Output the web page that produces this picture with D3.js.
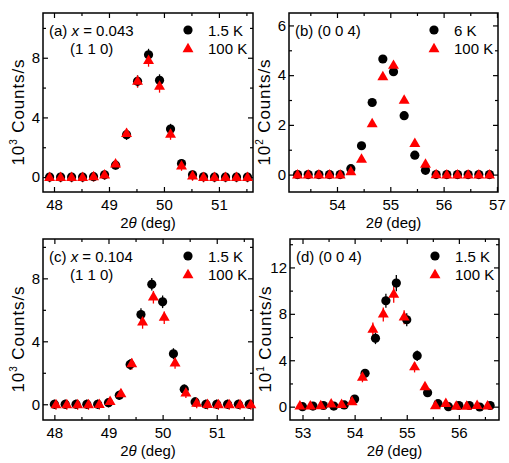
<!DOCTYPE html>
<html>
<head>
<meta charset="utf-8">
<script src="https://cdn.jsdelivr.net/npm/d3@7"></script>
<style>
  body { margin: 0; background: #fff; }
  svg text { font-family: "Liberation Sans", Arial, sans-serif; fill: #000; }
</style>
</head>
<body>
<svg id="chart" width="509" height="463"></svg>
<script>
// (a) x = 0.043, (1 1 0), units 10^3 counts/s
const aTheta = [47.92, 48.12, 48.32, 48.52, 48.72, 48.92, 49.12, 49.32, 49.52, 49.72, 49.92, 50.12, 50.32, 50.52, 50.72, 50.92, 51.12, 51.32, 51.52];
const aLow = [0, 0, 0, 0, 0.03, 0.15, 0.8, 2.84, 6.42, 8.2, 6.49, 3.22, 0.91, 0.15, 0.02, 0, 0, 0, 0];
const aHigh = [-0.05, -0.05, -0.05, -0.05, 0, 0.12, 0.85, 2.9, 6.4, 7.8, 6.06, 2.85, 0.72, 0.05, -0.05, -0.05, -0.05, -0.05, -0.05];
const aErr = [0.3, 0.3, 0.3, 0.3, 0.3, 0.3, 0.3, 0.35, 0.4, 0.4, 0.4, 0.35, 0.3, 0.3, 0.3, 0.3, 0.3, 0.3, 0.3];

// (b) (0 0 4), units 10^2 counts/s
const bTheta = [53.26, 53.46, 53.66, 53.86, 54.06, 54.26, 54.46, 54.66, 54.86, 55.06, 55.26, 55.46, 55.66, 55.86, 56.06, 56.26, 56.46, 56.66, 56.86];
const bLow = [0, 0, 0, 0, 0, 0.24, 1.16, 2.9, 4.65, 4.14, 2.37, 0.78, 0.17, 0, 0, 0, 0, 0, 0];
const bHigh = [-0.03, -0.03, -0.03, -0.03, -0.03, 0.1, 0.6, 2.03, 3.92, 4.38, 2.98, 1.24, 0.4, -0.02, -0.03, -0.03, -0.03, -0.03, -0.03];

// (c) x = 0.104, (1 1 0), units 10^3 counts/s
const cThetaLow = [48.0, 48.2, 48.4, 48.6, 48.8, 49.0, 49.2, 49.4, 49.6, 49.8, 50.0, 50.2, 50.4, 50.6, 50.8, 51.0, 51.2, 51.4, 51.6];
const cThetaHigh = [48.03, 48.23, 48.43, 48.63, 48.83, 49.03, 49.23, 49.43, 49.63, 49.83, 50.03, 50.23, 50.43, 50.63, 50.83, 51.03, 51.23, 51.43, 51.63];
const cLow = [0, 0, 0, 0, 0, 0.1, 0.57, 2.53, 5.7, 7.62, 6.51, 3.21, 0.96, 0.15, 0, 0, 0, 0, 0];
const cHigh = [-0.05, -0.05, -0.05, -0.05, -0.03, 0.15, 0.65, 2.55, 5.2, 6.8, 5.5, 2.6, 0.7, 0.05, -0.03, -0.05, -0.05, -0.05, -0.05];
const cErr = [0.3, 0.3, 0.3, 0.3, 0.3, 0.3, 0.3, 0.35, 0.4, 0.4, 0.4, 0.35, 0.3, 0.3, 0.3, 0.3, 0.3, 0.3, 0.3];

// (d) (0 0 4), units 10^1 counts/s
const dThetaLow = [53.0, 53.2, 53.4, 53.6, 53.8, 54.0, 54.2, 54.4, 54.6, 54.8, 55.0, 55.2, 55.4, 55.6, 55.8, 56.0, 56.2, 56.4, 56.6];
const dThetaHigh = [52.95, 53.15, 53.35, 53.55, 53.75, 53.95, 54.15, 54.35, 54.55, 54.75, 54.95, 55.15, 55.35, 55.55, 55.75, 55.95, 56.15, 56.35, 56.55];
const dLow = [0, 0.05, 0.1, 0.05, 0.15, 0.66, 2.87, 5.89, 9.13, 10.65, 7.49, 4.39, 1.2, 0.26, 0, 0.1, 0.1, -0.03, 0.1];
const dLowErr = [0.15, 0.15, 0.15, 0.15, 0.2, 0.25, 0.35, 0.5, 0.6, 0.7, 0.55, 0.45, 0.3, 0.15, 0.1, 0.1, 0.1, 0.1, 0.1];
const dHigh = [0.02, 0.02, 0.05, 0.2, 0.15, 0.4, 2.5, 6.65, 7.95, 9.65, 7.7, 3.4, 1.68, 0.05, 0.25, 0, 0, 0.08, 0.02];
const dHighErr = [0.15, 0.15, 0.15, 0.2, 0.2, 0.25, 0.4, 0.6, 0.6, 0.7, 0.6, 0.45, 0.3, 0.15, 0.2, 0.1, 0.1, 0.15, 0.1];

const RED = "#ff0000";
const svg = d3.select("#chart");

const panels = [
  {
    left: 43, top: 13, width: 210, height: 179,
    xDomain: [47.8, 51.62], yDomain: [-1, 11],
    xMajor: [48, 49, 50, 51], xMinor: [48.5, 49.5, 50.5, 51.5],
    yMajor: [0, 4, 8], yMinor: [2, 6, 10],
    power: "3", letter: "(a)", comp: "0.043", hkl: "(1 1 0)",
    lowLabel: "1.5 K",
    low: { x: aTheta, y: aLow, err: aErr },
    high: { x: aTheta, y: aHigh, err: aErr }
  },
  {
    left: 289, top: 13, width: 209, height: 179,
    xDomain: [53.1, 57.02], yDomain: [-0.7, 6.5],
    xMajor: [54, 55, 56, 57], xMinor: [53.5, 54.5, 55.5, 56.5],
    yMajor: [0, 2, 4, 6], yMinor: [1, 3, 5],
    power: "2", letter: "(b)", comp: null, hkl: "(0 0 4)",
    lowLabel: "6 K",
    low: { x: bTheta, y: bLow, err: null },
    high: { x: bTheta, y: bHigh, err: null }
  },
  {
    left: 43, top: 239, width: 210, height: 181,
    xDomain: [47.79, 51.67], yDomain: [-1, 10.5],
    xMajor: [48, 49, 50, 51], xMinor: [48.5, 49.5, 50.5, 51.5],
    yMajor: [0, 4, 8], yMinor: [2, 6, 10],
    power: "3", letter: "(c)", comp: "0.104", hkl: "(1 1 0)",
    lowLabel: "1.5 K",
    low: { x: cThetaLow, y: cLow, err: cErr },
    high: { x: cThetaHigh, y: cHigh, err: cErr }
  },
  {
    left: 290, top: 239, width: 209, height: 181,
    xDomain: [52.76, 56.77], yDomain: [-1.15, 14.45],
    xMajor: [53, 54, 55, 56], xMinor: [53.5, 54.5, 55.5, 56.5],
    yMajor: [0, 4, 8, 12], yMinor: [2, 6, 10, 14],
    power: "1", letter: "(d)", comp: null, hkl: "(0 0 4)",
    lowLabel: "1.5 K",
    low: { x: dThetaLow, y: dLow, err: dLowErr },
    high: { x: dThetaHigh, y: dHigh, err: dHighErr }
  }
];

const triangle = d3.symbol().type(d3.symbolTriangle).size(52);

panels.forEach(p => drawPanel(p));

function drawPanel(p) {
  const g = svg.append("g").attr("transform", `translate(${p.left},${p.top})`);
  const x = d3.scaleLinear().domain(p.xDomain).range([0, p.width]);
  const y = d3.scaleLinear().domain(p.yDomain).range([p.height, 0]);

  // ticks on all four sides, pointing inward
  g.append("g").attr("transform", `translate(0,${p.height})`)
    .call(d3.axisBottom(x).tickValues(p.xMajor).tickSize(-5).tickPadding(7).tickFormat(d3.format("d")));
  g.append("g").attr("transform", `translate(0,${p.height})`)
    .call(d3.axisBottom(x).tickValues(p.xMinor).tickSize(-3).tickFormat(""));
  g.append("g").call(d3.axisTop(x).tickValues(p.xMajor).tickSize(-5).tickFormat(""));
  g.append("g").call(d3.axisTop(x).tickValues(p.xMinor).tickSize(-3).tickFormat(""));
  g.append("g")
    .call(d3.axisLeft(y).tickValues(p.yMajor).tickSize(-5).tickPadding(3).tickFormat(d3.format("d")));
  g.append("g").call(d3.axisLeft(y).tickValues(p.yMinor).tickSize(-3).tickFormat(""));
  g.append("g").attr("transform", `translate(${p.width},0)`)
    .call(d3.axisRight(y).tickValues(p.yMajor).tickSize(-5).tickFormat(""));
  g.append("g").attr("transform", `translate(${p.width},0)`)
    .call(d3.axisRight(y).tickValues(p.yMinor).tickSize(-3).tickFormat(""));

  g.selectAll(".domain").remove();
  g.selectAll(".tick line").attr("stroke", "#000").attr("stroke-width", 1.2);
  g.selectAll(".tick text").attr("font-size", 15).attr("fill", "#000");
  g.append("rect").attr("width", p.width).attr("height", p.height)
    .attr("fill", "none").attr("stroke", "#000").attr("stroke-width", 1.5);

  // axis titles
  const xt = g.append("text").attr("x", p.width / 2).attr("y", p.height + 36)
    .attr("text-anchor", "middle").attr("font-size", 15);
  xt.append("tspan").text("2");
  xt.append("tspan").attr("font-style", "italic").text("θ");
  xt.append("tspan").text(" (deg)");

  const yt = g.append("text")
    .attr("transform", `translate(${-19},${p.height / 2 + 10}) rotate(-90)`)
    .attr("text-anchor", "middle").attr("font-size", 17)
    .attr("textLength", 106).attr("lengthAdjust", "spacing");
  yt.append("tspan").text("10");
  yt.append("tspan").attr("font-size", 10).attr("dy", -7).text(p.power);
  yt.append("tspan").attr("dy", 7).text(" Counts/s");

  // data: error bars then markers
  const marks = g.append("g");
  [p.low, p.high].forEach((s, k) => {
    if (!s.err) return;
    marks.selectAll(null).data(s.x.map((v, i) => ({ x: v, y: s.y[i], e: s.err[i] }))).join("line")
      .attr("x1", d => x(d.x)).attr("x2", d => x(d.x))
      .attr("y1", d => y(d.y - d.e)).attr("y2", d => y(d.y + d.e))
      .attr("stroke", k === 0 ? "#000" : RED).attr("stroke-width", 1.3);
  });
  const lowPts = p.low.x.map((v, i) => ({ x: v, y: p.low.y[i] }));
  const highPts = p.high.x.map((v, i) => ({ x: v, y: p.high.y[i] }));
  marks.selectAll(null).data(lowPts).join("circle")
    .attr("cx", d => x(d.x)).attr("cy", d => y(d.y)).attr("r", 4.6).attr("fill", "#000");
  marks.selectAll(null).data(highPts).join("path")
    .attr("d", triangle).attr("transform", d => `translate(${x(d.x)},${y(d.y)})`).attr("fill", RED);

  // panel label
  const lab = g.append("text").attr("x", 6).attr("y", 22.5).attr("font-size", 15);
  lab.append("tspan").text(p.letter + " ");
  if (p.comp) {
    lab.append("tspan").attr("font-style", "italic").text("x");
    lab.append("tspan").text(" = " + p.comp);
    g.append("text").attr("x", 27).attr("y", 40.5).attr("font-size", 15).text(p.hkl);
  } else {
    lab.append("tspan").text(p.hkl);
  }

  // legend
  g.append("circle").attr("cx", 145).attr("cy", 17).attr("r", 4.6).attr("fill", "#000");
  g.append("path").attr("d", triangle).attr("transform", "translate(145,36)").attr("fill", RED);
  g.append("text").attr("x", 165).attr("y", 22.5).attr("font-size", 15).text(p.lowLabel);
  g.append("text").attr("x", 165).attr("y", 41).attr("font-size", 15).text("100 K");
}
</script>
</body>
</html>
